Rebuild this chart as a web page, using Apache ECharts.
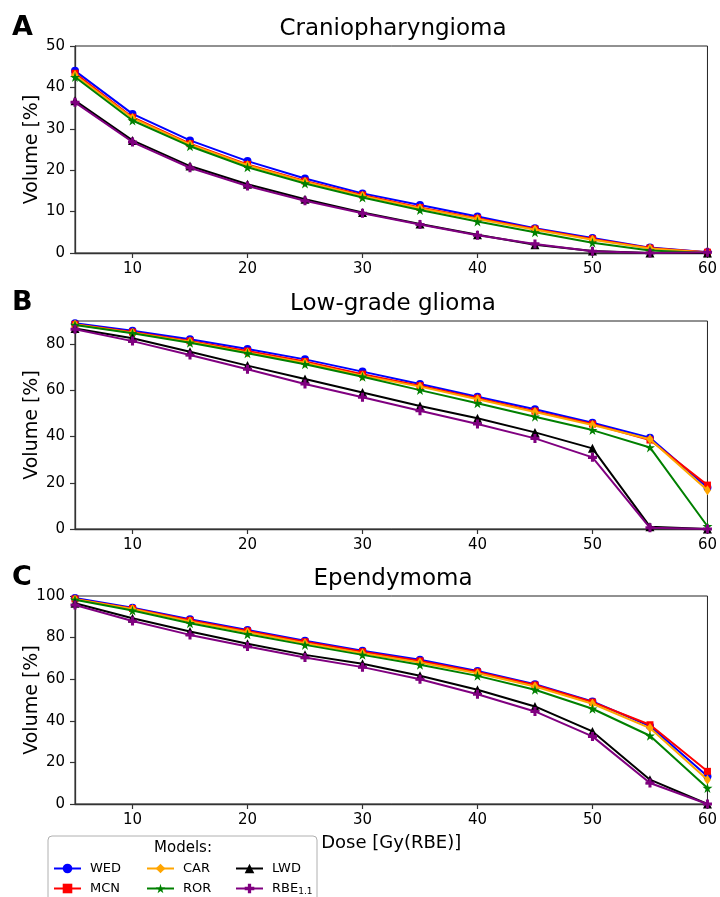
<!DOCTYPE html>
<html>
<head>
<meta charset="utf-8">
<script src="https://cdn.jsdelivr.net/npm/echarts@6/dist/echarts.min.js"></script>
<style>
html,body{margin:0;padding:0;background:#fff;}
#chart{width:720px;height:897px;}
</style>
</head>
<body>
<div id="chart"></div>
<script>
// ---- data ----
const dose = [5, 10, 15, 20, 25, 30, 35, 40, 45, 50, 55, 60];
const xTicks = [10, 20, 30, 40, 50, 60];
const panelTitles = ['Craniopharyngioma', 'Low-grade glioma', 'Ependymoma'];
const panelLetters = ['A', 'B', 'C'];
const yMax = [50, 90, 100];
const yTicksA = [0, 10, 20, 30, 40, 50];
const yTicksB = [0, 20, 40, 60, 80];
const yTicksC = [0, 20, 40, 60, 80, 100];
const models = ['WED', 'MCN', 'CAR', 'ROR', 'LWD', 'RBE1.1'];

// Panel A: Craniopharyngioma
const A_WED = [44.0, 33.6, 27.2, 22.2, 18.0, 14.4, 11.6, 8.8, 6.0, 3.6, 1.3, 0.2];
const A_MCN = [43.4, 32.8, 26.4, 21.4, 17.4, 14.0, 11.0, 8.4, 5.8, 3.4, 1.2, 0.2];
const A_CAR = [43.0, 32.6, 26.2, 21.2, 17.2, 13.8, 10.8, 8.2, 5.6, 3.2, 1.1, 0.1];
const A_ROR = [42.5, 32.0, 25.8, 20.7, 16.8, 13.4, 10.4, 7.6, 5.0, 2.5, 0.6, 0.0];
const A_LWD = [36.8, 27.2, 21.0, 16.6, 13.0, 9.8, 7.0, 4.4, 2.0, 0.5, 0.0, 0.0];
const A_RBE = [36.4, 26.8, 20.6, 16.2, 12.6, 9.6, 6.9, 4.3, 2.2, 0.4, 0.0, 0.2];

// Panel B: Low-grade glioma
const B_WED = [89.0, 85.8, 82.1, 77.9, 73.4, 68.1, 62.7, 57.2, 51.8, 46.0, 39.5, 18.0];
const B_MCN = [88.6, 85.2, 81.4, 77.0, 72.5, 67.0, 62.0, 56.6, 51.0, 45.4, 38.5, 19.0];
const B_CAR = [88.5, 84.9, 81.0, 76.4, 71.9, 66.3, 61.6, 56.1, 50.6, 45.0, 38.8, 16.8];
const B_ROR = [88.3, 84.7, 80.6, 76.0, 71.3, 65.9, 60.1, 54.4, 48.6, 42.8, 35.3, 1.2];
const B_LWD = [86.8, 82.5, 76.7, 70.7, 64.9, 59.1, 53.2, 47.9, 41.8, 34.9, 1.0, 0.0];
const B_RBE = [86.4, 81.3, 75.3, 69.1, 62.7, 57.0, 51.2, 45.4, 39.2, 31.0, 0.5, 0.0];

// Panel C: Ependymoma
const C_WED = [99.0, 94.4, 88.8, 83.7, 78.5, 73.7, 69.3, 64.0, 57.6, 49.3, 37.5, 13.3];
const C_MCN = [98.6, 94.0, 88.3, 83.2, 78.0, 73.2, 68.8, 63.5, 57.2, 49.0, 38.1, 15.7];
const C_CAR = [98.4, 93.8, 87.7, 82.6, 77.3, 72.5, 68.0, 62.9, 56.5, 48.2, 36.5, 11.7];
const C_ROR = [98.2, 93.0, 86.9, 81.6, 76.5, 71.7, 66.9, 61.6, 54.9, 45.8, 32.8, 7.7];
const C_LWD = [96.5, 89.3, 82.9, 77.0, 71.7, 67.4, 61.7, 54.9, 46.9, 34.9, 11.7, 0.0];
const C_RBE = [95.7, 88.0, 81.3, 75.7, 70.4, 65.8, 60.0, 52.8, 44.5, 32.5, 10.1, 0.0];

// ---- styling / build ----
const FONT = 'DejaVu Sans';
const panels = [
  [A_WED, A_MCN, A_CAR, A_ROR, A_LWD, A_RBE],
  [B_WED, B_MCN, B_CAR, B_ROR, B_LWD, B_RBE],
  [C_WED, C_MCN, C_CAR, C_ROR, C_LWD, C_RBE]
];
const yTicks = [yTicksA, yTicksB, yTicksC];
const STAR = 'path://M50,0 L61,35 L98,35 L68,57 L79,91 L50,70 L21,91 L32,57 L2,35 L39,35 Z';
const PLUS = 'path://M33,0 H67 V33 H100 V67 H67 V100 H33 V67 H0 V33 H33 Z';
const styles = {
  'WED': {color: '#0000ff', symbol: 'circle', size: 8},
  'MCN': {color: '#ff0000', symbol: 'rect', size: 7},
  'CAR': {color: '#ffa500', symbol: 'diamond', size: [7, 10]},
  'ROR': {color: '#008000', symbol: STAR, size: 10},
  'LWD': {color: '#000000', symbol: 'triangle', size: 9},
  'RBE1.1': {color: '#800080', symbol: PLUS, size: 9}
};
const gridTops = [46, 321, 596];
const gridH = [207, 208, 208];

const grids = [], xAxes = [], yAxes = [], series = [], graphics = [];
for (let p = 0; p < 3; p++) {
  grids.push({left: 75, top: gridTops[p], width: 635, height: gridH[p], show: true,
    borderColor: '#222', borderWidth: 1, backgroundColor: 'transparent'});
  xAxes.push({
    type: 'value', gridIndex: p, min: 5, max: 60,
    name: p === 2 ? 'Dose [Gy(RBE)]' : '', nameLocation: 'middle', nameGap: 30,
    nameTextStyle: {fontFamily: FONT, fontSize: 18, color: '#000'},
    axisLine: {show: true, lineStyle: {color: '#333', width: 1.3}},
    axisTick: {show: true, inside: false, length: 5, lineStyle: {color: '#333', width: 1.2}, customValues: xTicks},
    axisLabel: {show: true, fontFamily: FONT, fontSize: 15, color: '#000', margin: 9, customValues: xTicks},
    splitLine: {show: false}
  });
  yAxes.push({
    type: 'value', gridIndex: p, min: 0, max: yMax[p],
    name: 'Volume [%]', nameLocation: 'middle', nameGap: 33, nameMoveOverlap: false,
    nameTextStyle: {fontFamily: FONT, fontSize: 19, color: '#000'},
    axisLine: {show: true, lineStyle: {color: '#333', width: 1.3}},
    axisTick: {show: true, inside: false, length: 5, lineStyle: {color: '#333', width: 1.2}, customValues: yTicks[p]},
    axisLabel: {show: true, fontFamily: FONT, fontSize: 15, color: '#000', margin: 10, customValues: yTicks[p]},
    splitLine: {show: false}
  });
  models.forEach((m, k) => {
    const st = styles[m];
    series.push({
      name: m, type: 'line', xAxisIndex: p, yAxisIndex: p,
      data: dose.map((d, i) => [d, panels[p][k][i]]),
      symbol: st.symbol, symbolSize: st.size, showSymbol: true,
      color: st.color,
      lineStyle: {color: st.color, width: 2},
      itemStyle: {color: st.color},
      z: 2 + k, animation: false, clip: false
    });
  });
  graphics.push({type: 'text', left: 12, top: gridTops[p] - 32,
    style: {text: panelLetters[p], font: 'bold 27px "' + FONT + '"', fill: '#000'}});
  graphics.push({type: 'text', x: 393, y: gridTops[p] - 17,
    style: {text: panelTitles[p], font: '23px "' + FONT + '"', fill: '#000', align: 'center', verticalAlign: 'middle'}});
}
graphics.push({type: 'rect', shape: {x: 48, y: 836, width: 269, height: 75, r: 4},
  style: {fill: '#fff', stroke: '#b0b0b0', lineWidth: 1}, z: 5});
graphics.push({type: 'text', x: 183, y: 848, z: 6,
  style: {text: 'Models:', font: '15px "' + FONT + '"', fill: '#000', align: 'center', verticalAlign: 'middle'}});

const legendBase = {
  orient: 'vertical', top: 862, itemWidth: 27, itemHeight: 12, itemGap: 7, padding: 0, z: 10,
  textStyle: {fontFamily: FONT, fontSize: 13, color: '#000', padding: [0, 0, 0, 4],
    rich: {b: {fontFamily: FONT, fontSize: 13, color: '#000'},
           s: {fontFamily: FONT, fontSize: 9, color: '#000', padding: [6, 0, 0, 0]}}},
  formatter: n => n === 'RBE1.1' ? '{b|RBE}{s|1.1}' : n,
  selectedMode: false
};
const legends = [
  Object.assign({}, legendBase, {left: 53, data: ['WED', 'MCN']}),
  Object.assign({}, legendBase, {left: 146, data: ['CAR', 'ROR']}),
  Object.assign({}, legendBase, {left: 235, data: ['LWD', 'RBE1.1']})
];

const chart = echarts.init(document.getElementById('chart'), null, {renderer: 'canvas'});
chart.setOption({
  animation: false,
  backgroundColor: '#fff',
  grid: grids, xAxis: xAxes, yAxis: yAxes, series: series,
  legend: legends,
  graphic: graphics
});
</script>
</body>
</html>
